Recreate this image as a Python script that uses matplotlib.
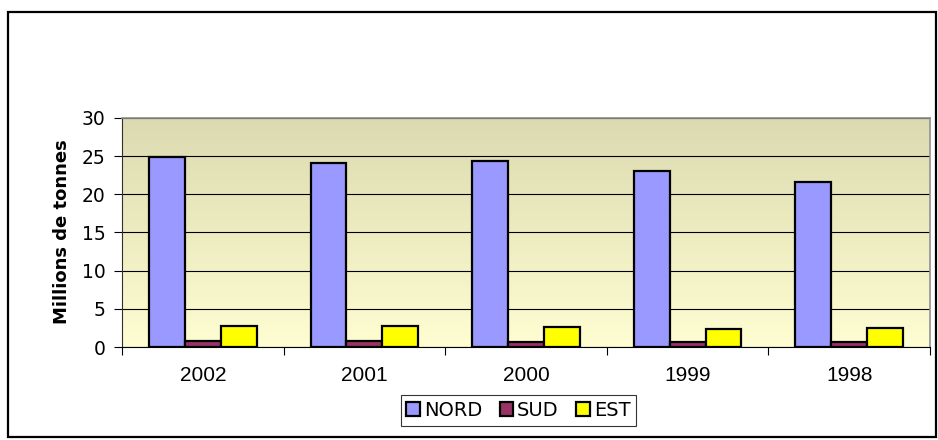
import matplotlib
matplotlib.use("Agg")
import matplotlib.pyplot as plt
import numpy as np
from matplotlib.colors import LinearSegmentedColormap
from matplotlib.patches import Rectangle

years = ["2002", "2001", "2000", "1999", "1998"]
nord = [24.9, 24.1, 24.4, 23.1, 21.6]
sud = [0.8, 0.8, 0.7, 0.6, 0.6]
est = [2.8, 2.8, 2.6, 2.4, 2.5]
series_names = ["NORD", "SUD", "EST"]
series_colors = ["#9999FF", "#993366", "#FFFF00"]

fig = plt.figure(figsize=(9.38, 4.40), dpi=100)
fig.patch.set_facecolor("white")
# outer frame of the chart
fig.patches.append(Rectangle((8 / 938, 3 / 440), 928 / 938, 425 / 440, transform=fig.transFigure,
                             fill=False, edgecolor="black", linewidth=1.6))

ax = fig.add_axes([122 / 938, 93 / 440, 808 / 938, 229 / 440])

# background gradient (tan at top -> pale yellow at bottom)
cmap = LinearSegmentedColormap.from_list("bg", ["#FEFED2", "#DCDAB0"])
grad = np.linspace(0, 1, 256).reshape(-1, 1)
ax.imshow(grad, cmap=cmap, aspect="auto", extent=[-0.5, 4.5, 0, 30], origin="lower", zorder=0)

x = np.arange(len(years))
w = 1 / 4.5
for i, (vals, name, col) in enumerate(zip([nord, sud, est], series_names, series_colors)):
    ax.bar(x + (i - 1) * w, vals, width=w, color=col, edgecolor="black", linewidth=1.6,
           label=name, zorder=3)

ax.set_xlim(-0.5, 4.5)
ax.set_ylim(0, 30)
ax.set_yticks(np.arange(0, 31, 5))
ax.yaxis.grid(True, color="black", linewidth=0.8, zorder=1)
ax.set_axisbelow(True)

ax.set_xticks(np.arange(-0.5, 5, 1))
ax.set_xticklabels([])
ax.set_xticks(x, minor=True)
ax.set_xticklabels(years, minor=True, fontsize=15, family="Liberation Sans")
ax.tick_params(axis="x", which="major", length=6, width=0.8, direction="out")
ax.tick_params(axis="x", which="minor", length=0, pad=14)
ax.tick_params(axis="y", length=6, width=0.8, direction="out", labelsize=13.5, pad=6)

for s in ["top", "right"]:
    ax.spines[s].set_color("#909090")
    ax.spines[s].set_linewidth(1.2)
ax.spines["left"].set_color("#303030")
ax.spines["bottom"].set_color("black")

fig.text(62 / 938, 1 - 232 / 440, "Millions de tonnes", rotation=90, ha="center", va="center",
         fontsize=13, fontweight="bold")

leg = fig.legend(loc="center", bbox_to_anchor=(518.5 / 938, 1 - 410.5 / 440), ncol=3,
                 fontsize=14, frameon=True, fancybox=False, edgecolor="black",
                 handlelength=0.7, handleheight=0.7, handletextpad=0.2, columnspacing=0.9,
                 borderpad=0.3, borderaxespad=0)
leg.get_frame().set_linewidth(0.8)

fig.savefig("out.png", dpi=100)
